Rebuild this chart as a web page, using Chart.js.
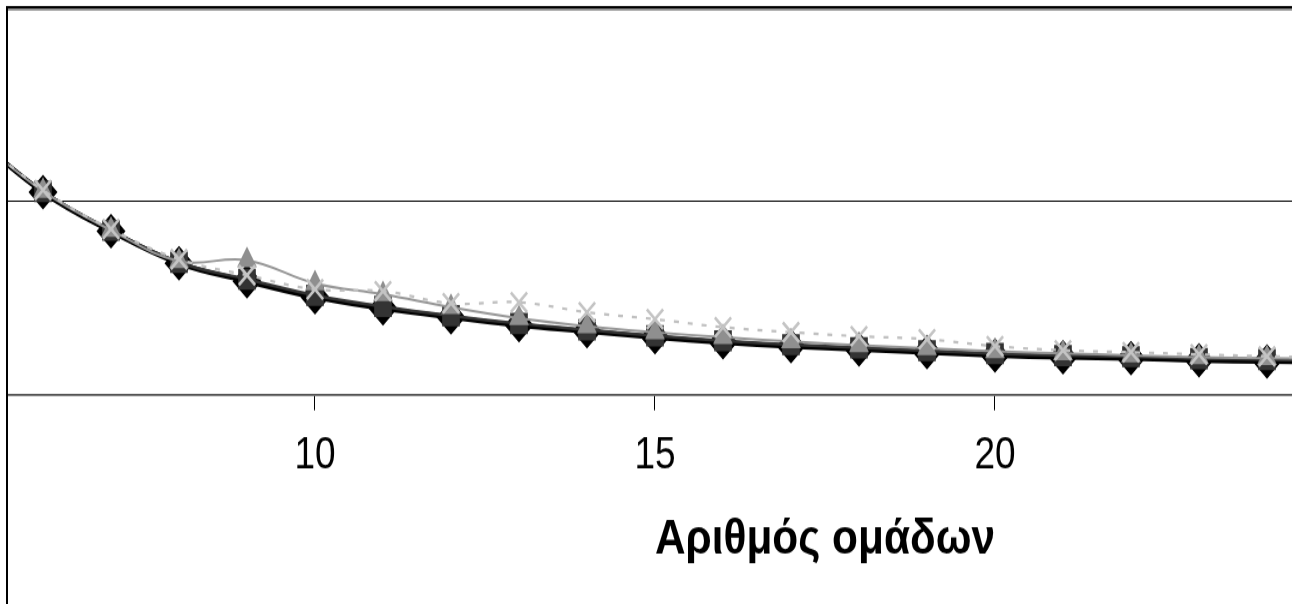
<!DOCTYPE html>
<html>
<head>
<meta charset="utf-8">
<script src="https://cdn.jsdelivr.net/npm/chart.js@4"></script>
<style>
  html, body { margin: 0; padding: 0; background: #fff; }
  #wrap { width: 1292px; height: 604px; overflow: hidden; position: relative; }
  /* the original picture is stretched vertically, so is this one */
  #c { transform-origin: 0 0; transform: scaleY(1.2008); }
</style>
</head>
<body>
<div id="wrap"><canvas id="c" width="1292" height="503"></canvas></div>
<script>
// number of groups on the x axis
const groups = [5, 6, 7, 8, 9, 10, 11, 12, 13, 14, 15, 16, 17, 18, 19, 20, 21, 22, 23, 24, 25];

// series values
const diamondVals  = [1.33, 1.046, 0.845, 0.680, 0.588, 0.505, 0.448, 0.402, 0.361, 0.330, 0.299, 0.273, 0.253, 0.237, 0.222, 0.206, 0.196, 0.191, 0.180, 0.175, 0.170];
const squareVals   = [1.33, 1.050, 0.850, 0.685, 0.598, 0.515, 0.458, 0.410, 0.370, 0.338, 0.307, 0.281, 0.261, 0.245, 0.230, 0.215, 0.205, 0.199, 0.189, 0.184, 0.179];
const triangleVals = [1.33, 1.052, 0.851, 0.691, 0.696, 0.577, 0.521, 0.454, 0.397, 0.356, 0.325, 0.299, 0.278, 0.258, 0.242, 0.227, 0.216, 0.206, 0.196, 0.191, 0.186];
const crossVals    = [1.33, 1.057, 0.856, 0.701, 0.619, 0.546, 0.536, 0.474, 0.479, 0.428, 0.392, 0.351, 0.325, 0.304, 0.289, 0.253, 0.232, 0.222, 0.211, 0.201, 0.196];

const xTicks = [10, 15, 20];
const yGrid = [1];
const xTitle = 'Αριθμός ομάδων';

const pts = vals => vals.map((v, i) => ({ x: groups[i], y: v }));

// frame of the picture and the axis title
const framePlugin = {
  id: 'frame',
  afterDraw(chart) {
    const ctx = chart.ctx;
    ctx.save();
    ctx.fillStyle = '#000';
    ctx.fillRect(6, 5, chart.width - 6, 2.5);
    ctx.fillStyle = '#9a9a9a';
    ctx.fillRect(8, 7.5, chart.width - 8, 1.4);
    ctx.fillStyle = '#000';
    ctx.fillRect(6, 5, 2, chart.height);

    // text in the original is less stretched than the marks
    ctx.translate(825, 461);
    ctx.scale(1.06, 1);
    ctx.font = 'bold 40px "Liberation Sans", Arial, sans-serif';
    ctx.textAlign = 'center';
    ctx.textBaseline = 'alphabetic';
    ctx.fillText(xTitle, 0, 0);
    ctx.restore();
  }
};

new Chart(document.getElementById('c'), {
  type: 'line',
  data: {
    datasets: [
      {
        data: pts(diamondVals),
        borderColor: '#000',
        borderWidth: 4.2,
        pointStyle: 'rectRot',
        pointRadius: 14.5,
        pointBackgroundColor: '#000',
        pointBorderWidth: 0,
        order: 4
      },
      {
        data: pts(squareVals),
        borderColor: '#333',
        borderWidth: 2.5,
        pointStyle: 'rect',
        pointRadius: 12.5,
        pointBackgroundColor: '#333',
        pointBorderWidth: 0,
        order: 3
      },
      {
        data: pts(triangleVals),
        borderColor: '#969696',
        borderWidth: 2,
        pointStyle: 'triangle',
        pointRadius: 11.5,
        pointBackgroundColor: '#8f8f8f',
        pointBorderWidth: 0,
        order: 2
      },
      {
        data: pts(crossVals),
        borderColor: '#c0c0c0',
        borderWidth: 2.2,
        borderDash: [5, 9],
        pointStyle: 'crossRot',
        pointRadius: 11.5,
        pointBorderColor: '#c4c4c4',
        pointBorderWidth: 2.6,
        order: 1
      }
    ]
  },
  options: {
    responsive: false,
    animation: false,
    events: [],
    devicePixelRatio: 1,
    elements: { line: { tension: 0.4 } },
    layout: { autoPadding: false, padding: { left: 8, top: 5.83, right: 0, bottom: 53.8 } },
    plugins: { legend: { display: false }, tooltip: { enabled: false }, title: { display: false } },
    scales: {
      x: {
        type: 'linear',
        min: 5.4853,
        max: 24.368,
        afterBuildTicks: s => { s.ticks = xTicks.map(v => ({ value: v })); },
        afterFit: s => { s.height = 120; },
        grid: { drawOnChartArea: false, drawTicks: true, tickLength: 12.5, color: '#000', lineWidth: 1 },
        border: { display: true, color: '#555', width: 1.7 },
        ticks: {
          color: '#000',
          padding: 16,
          maxRotation: 0,
          font: { family: '"Liberation Sans", Arial, sans-serif', size: 37 }
        }
      },
      y: {
        min: 0,
        max: 2,
        afterBuildTicks: s => { s.ticks = yGrid.map(v => ({ value: v })); },
        afterFit: s => { s.width = 0; },
        grid: { drawTicks: false, color: '#000', lineWidth: 1 },
        border: { display: false },
        ticks: { display: false }
      }
    }
  },
  plugins: [framePlugin]
});
</script>
</body>
</html>
